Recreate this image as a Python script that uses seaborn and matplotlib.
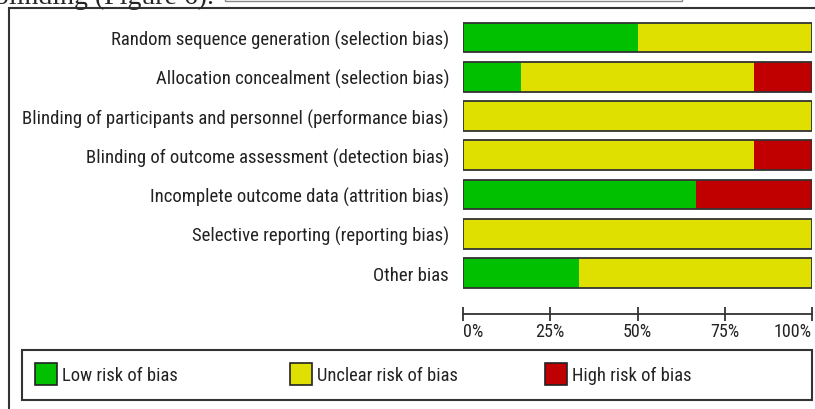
import matplotlib
matplotlib.use("Agg")
import matplotlib.pyplot as plt
import matplotlib.patches as mpatches
import matplotlib.ticker as mticker
import seaborn as sns
import pandas as pd

# ─── DATA ────────────────────────────────────────────────────────────────────
domains = [
    "Random sequence generation (selection bias)",
    "Allocation concealment (selection bias)",
    "Blinding of participants and personnel (performance bias)",
    "Blinding of outcome assessment (detection bias)",
    "Incomplete outcome data (attrition bias)",
    "Selective reporting (reporting bias)",
    "Other bias",
]
low_risk     = [50.0, 16.7, 0.0, 0.0, 66.7, 0.0, 33.3]
unclear_risk = [50.0, 66.6, 100.0, 83.3, 0.0, 100.0, 66.7]
high_risk    = [0.0, 16.7, 0.0, 16.7, 33.3, 0.0, 0.0]
legend_labels = ["Low risk of bias", "Unclear risk of bias", "High risk of bias"]
x_ticks = [0, 25, 50, 75, 100]

GREEN, YELLOW, RED = "#00C000", "#E0E000", "#C00000"
EDGE = "#333333"

sns.set_theme(style="white")
NARROW = ["Arial Narrow", "Liberation Sans Narrow", "Roboto Condensed", "Archivo Narrow",
          "Liberation Sans", "DejaVu Sans"]
plt.rcParams["font.family"] = NARROW

W, H = 815, 410
fig = plt.figure(figsize=(W / 100, H / 100), dpi=100)
fig.patch.set_facecolor("white")

def fx(px): return px / W
def fy(py): return 1 - py / H

# outer frame and the clipped caption line above it
fig.patches.append(mpatches.Rectangle((fx(9), fy(430)), fx(830), 421 / H, transform=fig.transFigure,
                                      fill=False, edgecolor=EDGE, lw=1.5))
fig.patches.append(mpatches.Rectangle((fx(225), fy(1.5)), fx(457), 20 / H, transform=fig.transFigure,
                                      fill=False, edgecolor="#888888", lw=1.0))
fig.text(fx(-5), fy(4.5), "blinding (Figure 6).", family=["Liberation Serif", "DejaVu Serif"],
         fontsize=20, va="baseline", ha="left")

# ─── BARS ────────────────────────────────────────────────────────────────────
ax = fig.add_axes([fx(463), fy(293.6), fx(349), 274.7 / H])
df = pd.DataFrame({"domain": domains, "low": low_risk, "unclear": unclear_risk, "high": high_risk})
df["c_unclear"] = df["low"] + df["unclear"]
df["c_high"] = df["c_unclear"] + df["high"]

bw = 0.76
sns.barplot(data=df, x="c_high", y="domain", color=RED, width=bw, saturation=1, ax=ax, linewidth=0)
sns.barplot(data=df, x="c_unclear", y="domain", color=YELLOW, width=bw, saturation=1, ax=ax, linewidth=0)
sns.barplot(data=df, x="low", y="domain", color=GREEN, width=bw, saturation=1, ax=ax, linewidth=0)
sns.barplot(data=df, x="c_high", y="domain", fill=False, width=bw, ax=ax,
            edgecolor=EDGE, linewidth=1.3)

ax.set_xlim(0, 100)
ax.set_ylim(len(domains) - 0.5, -0.5)
ax.set_xlabel("")
ax.set_ylabel("")
for s in ["top", "right", "left"]:
    ax.spines[s].set_visible(False)
ax.spines["bottom"].set_position(("outward", 15.4))
ax.spines["bottom"].set_color(EDGE)
ax.spines["bottom"].set_linewidth(1.3)
ax.set_xticks(x_ticks)
ax.xaxis.set_major_formatter(mticker.FuncFormatter(lambda v, _: f"{v:.0f}%"))
ax.tick_params(axis="x", direction="inout", length=10, width=1.3, color=EDGE,
               labelsize=13, pad=1, bottom=True, labelcolor="#222222")
ax.tick_params(axis="y", length=0, labelsize=13.5, pad=10, labelcolor="#222222")
xl = ax.get_xticklabels()
xl[0].set_horizontalalignment("left")
xl[-1].set_horizontalalignment("right")

# ─── LEGEND ──────────────────────────────────────────────────────────────────
fig.patches.append(mpatches.Rectangle((fx(22), fy(401)), fx(790), 50 / H, transform=fig.transFigure,
                                      fill=False, edgecolor=EDGE, lw=1.5))
for c, l, px in zip([GREEN, YELLOW, RED], legend_labels, [35, 290, 545]):
    h = mpatches.Patch(facecolor=c, edgecolor="#222222", lw=1.2, label=l)
    fig.legend(handles=[h], loc="center left", bbox_to_anchor=(fx(px), fy(375)),
               frameon=False, fontsize=13.3, handlelength=1.19, handleheight=1.41,
               handletextpad=0.27, borderpad=0, borderaxespad=0, labelcolor="#222222")

fig.savefig("out.png", dpi=100)
